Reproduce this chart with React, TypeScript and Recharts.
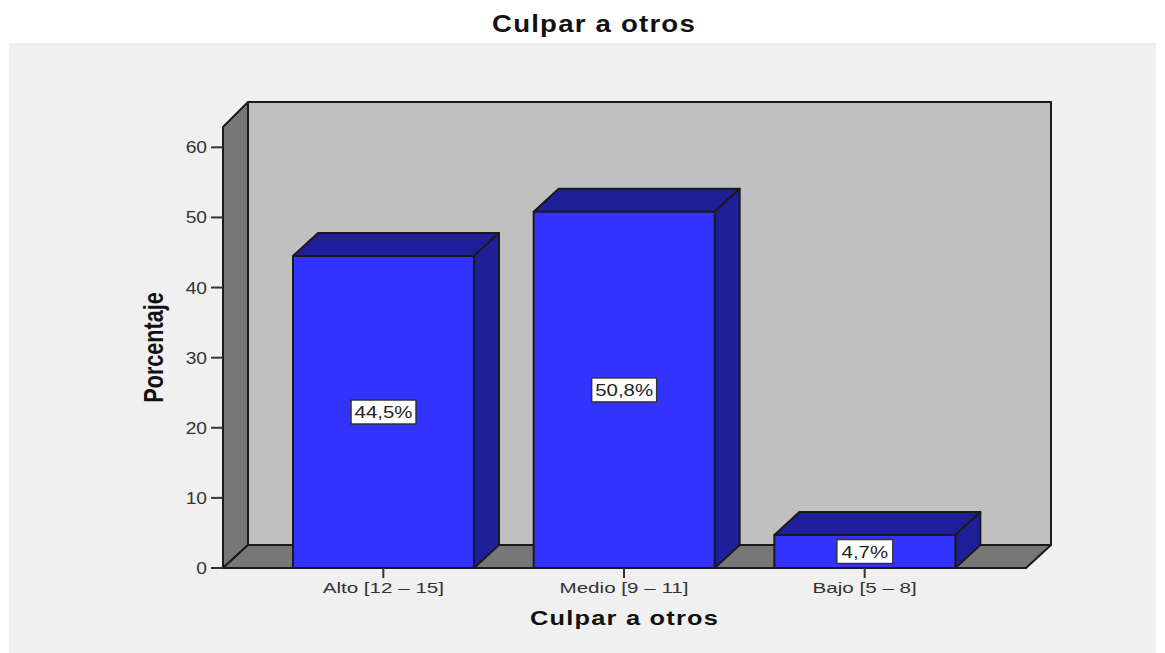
import { BarChart, Bar, XAxis, YAxis, LabelList, usePlotArea } from 'recharts';

const categories = ['Alto [12 – 15]', 'Medio [9 – 11]', 'Bajo [5 – 8]'];
const percentages = [44.5, 50.8, 4.7];
const yTicks = [0, 10, 20, 30, 40, 50, 60];

const data = categories.map((name, i) => ({ name, value: percentages[i] }));

const DX = 25;
const DY = 23;
const OUTLINE = '#1a1a1a';
const FONT = '"Liberation Sans", Arial, sans-serif';

// back wall, left wall and floor of the 3D box
const Walls = () => {
  const area = usePlotArea();
  if (!area) return null;
  const { x, y, width, height } = area;
  const r = x + width;
  const b = y + height;
  return (
    <g stroke={OUTLINE} strokeWidth={2} strokeLinejoin="round">
      <polygon points={`${x + DX},${y - DY - 2} ${r + DX},${y - DY - 2} ${r + DX},${b - DY} ${x + DX},${b - DY}`} fill="#c0c0c0" />
      <polygon points={`${x},${y} ${x + DX},${y - DY - 2} ${x + DX},${b - DY} ${x},${b}`} fill="#777777" />
      <polygon points={`${x},${b} ${x + DX},${b - DY} ${r + DX},${b - DY} ${r},${b}`} fill="#777777" />
    </g>
  );
};

const Box3D = (props: any) => {
  const { x, y, width, height } = props;
  const r = x + width;
  const b = y + height;
  return (
    <g stroke={OUTLINE} strokeWidth={2} strokeLinejoin="round">
      <polygon points={`${x},${y} ${x + DX},${y - DY} ${r + DX},${y - DY} ${r},${y}`} fill="#1f1f99" />
      <polygon points={`${r},${y} ${r + DX},${y - DY} ${r + DX},${b - DY} ${r},${b}`} fill="#1f1f99" />
      <rect x={x} y={y} width={width} height={height} fill="#3333ff" />
    </g>
  );
};

const ValueBox = (props: any) => {
  const { x, y, width, height, value } = props;
  const text = String(value).replace('.', ',') + '%';
  const w = text.length === 4 ? 56 : 65;
  const cx = x + width / 2;
  const cy = y + height / 2;
  return (
    <g>
      <rect x={cx - w / 2} y={cy - 12} width={w} height={24} fill="#ffffff" stroke="#333333" strokeWidth={1.5} />
      <text transform={`translate(${cx},${cy + 6}) scale(1.2,1)`} textAnchor="middle" fontSize={17} fontFamily={FONT} fill="#222222">
        {text}
      </text>
    </g>
  );
};

// the reference is stretched sideways, so the tick text is too
const CategoryTick = (props: any) => {
  const { x, y, payload } = props;
  return (
    <text transform={`translate(${x},${y + 13}) scale(1.33,1)`} textAnchor="middle" fontSize={15.5} fontFamily={FONT} fill="#333333">
      {payload.value}
    </text>
  );
};

const PercentTick = (props: any) => {
  const { x, y, payload } = props;
  return (
    <text transform={`translate(${x - 2},${y + 6}) scale(1.2,1)`} textAnchor="end" fontSize={16} fontFamily={FONT} fill="#333333">
      {payload.value}
    </text>
  );
};

const XTitle = (props: any) => {
  const { viewBox } = props;
  return (
    <text transform={`translate(${viewBox.x + viewBox.width / 2},625) scale(1.21,1)`} textAnchor="middle" fontSize={21} fontWeight={700} letterSpacing={1} fontFamily={FONT} fill="#111111">
      Culpar a otros
    </text>
  );
};

const YTitle = (props: any) => {
  const { viewBox } = props;
  return (
    <text transform={`translate(163,${viewBox.y + viewBox.height / 2}) rotate(-90) scale(0.8,1)`} textAnchor="middle" fontSize={27} fontWeight={700} fontFamily={FONT} fill="#111111">
      Porcentaje
    </text>
  );
};

export default function App() {
  return (
    <div style={{ position: 'absolute', left: 0, top: 0, width: 1165, height: 653, background: '#ffffff', overflow: 'hidden' }}>
      <div style={{ position: 'absolute', left: 9, top: 43, width: 1147, height: 610, background: '#f0f0f0' }} />
      <div style={{ position: 'absolute', left: 0, top: 11, width: 1188, textAlign: 'center', fontFamily: FONT, fontWeight: 700, fontSize: 23, letterSpacing: 1, color: '#111111', transform: 'scaleX(1.2)' }}>
        Culpar a otros
      </div>
      <div style={{ position: 'absolute', left: 0, top: 0 }}>
        <BarChart width={1165} height={653} data={data} margin={{ top: 127, right: 139, bottom: 0, left: 0 }}>
          <Walls />
          <XAxis
            dataKey="name"
            height={85}
            padding={{ left: 40, right: 41 }}
            tick={CategoryTick}
            tickSize={10}
            tickLine={{ stroke: '#333333', strokeWidth: 2 }}
            axisLine={{ stroke: OUTLINE, strokeWidth: 2 }}
            label={XTitle}
          />
          <YAxis
            width={223}
            domain={[0, 62.9]}
            ticks={yTicks}
            tick={PercentTick}
            tickSize={12}
            tickLine={{ stroke: '#333333', strokeWidth: 2 }}
            axisLine={{ stroke: OUTLINE, strokeWidth: 2 }}
            label={YTitle}
          />
          <Bar dataKey="value" barSize={181} shape={Box3D} isAnimationActive={false}>
            <LabelList dataKey="value" content={ValueBox} />
          </Bar>
        </BarChart>
      </div>
    </div>
  );
}
